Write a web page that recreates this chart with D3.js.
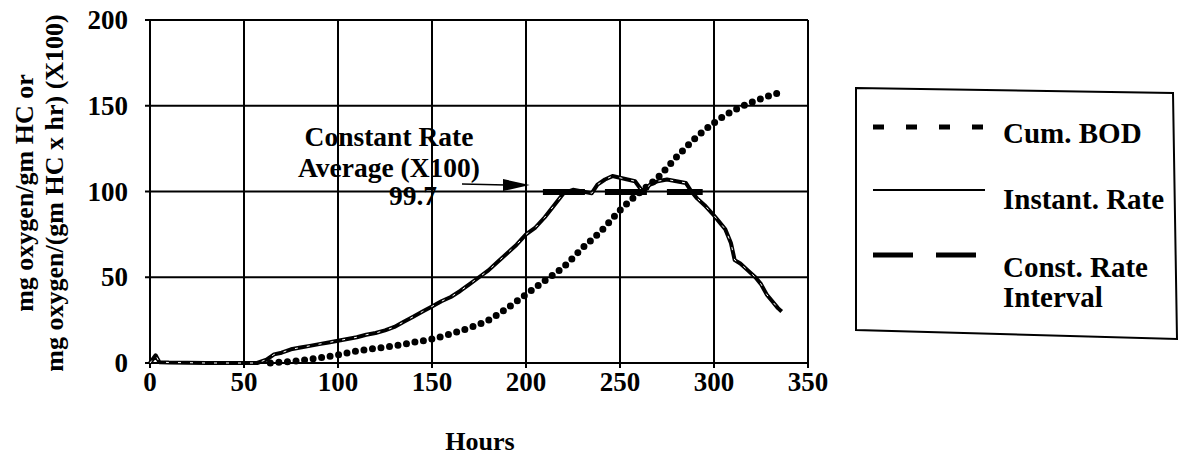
<!DOCTYPE html>
<html>
<head>
<meta charset="utf-8">
<script src="https://cdn.jsdelivr.net/npm/d3@7/dist/d3.min.js"></script>
<style>
  html, body { margin: 0; padding: 0; background: #fff; }
  svg text { font-family: "Liberation Serif", "Times New Roman", serif; font-weight: bold; fill: #000; }
</style>
</head>
<body>
<svg id="chart" width="1183" height="459"></svg>
<script>
// Cumulative BOD (mg oxygen / gm HC), by hour
const bodHours  = [64, 70, 80, 90, 100, 110, 120, 130, 140, 150, 160, 170, 180, 190, 200, 210, 220, 230, 240, 250, 260, 270, 280, 290, 300, 310, 320, 330, 336];
const bodValues = [0, 0.5, 1.5, 3, 4.8, 7, 8.5, 10, 12, 14, 17, 20.5, 25, 32, 40, 48, 56, 67, 77, 89, 99, 108, 120, 131, 140, 147, 152, 156, 158];

// Instantaneous oxygen uptake rate (mg oxygen / (gm HC x hr), X100)
const rateHours  = [0, 3, 5, 10, 20, 30, 40, 50, 57, 62, 66, 70, 75, 80, 85, 90, 95, 100, 105, 110, 115, 120, 125, 130, 135, 140, 145, 150, 155, 160, 165, 170, 175, 180, 185, 190, 195, 200, 205, 210, 215, 220, 225, 230, 235, 238, 242, 246, 250, 254, 258, 262, 266, 270, 275, 280, 285, 288, 291, 295, 300, 303, 306, 309, 311, 314, 318, 322, 325, 328, 331, 334, 336];
const rateValues = [0, 4.5, 0.5, 0.3, 0.2, 0, 0, 0, 0, 2, 5, 6, 8, 9, 10, 11, 12, 13, 14, 15, 16.5, 17.5, 19, 21, 24, 27, 30, 33, 36, 38.5, 42, 46, 50, 54, 59, 64, 69, 75, 79, 85, 92, 99, 101, 100, 99, 104, 107, 109, 108, 107, 106, 100, 104, 106, 107, 106, 105, 100, 96, 92, 86, 82, 78, 70, 60, 58, 54, 50, 46, 40, 36, 32, 30];

// Constant-rate interval and its average
const constHours = [209, 294];
const constAverage = 99.7;

// Axis ticks
const xTicks = [0, 50, 100, 150, 200, 250, 300, 350];
const yTicks = [0, 50, 100, 150, 200];

const legendLabels = ["Cum. BOD", "Instant. Rate", ["Const. Rate", "Interval"]];

const svg = d3.select("#chart");
const x = d3.scaleLinear().domain([0, 350]).range([150, 808]);
const y = d3.scaleLinear().domain([0, 200]).range([363, 20]);

// Grid and frame
const grid = svg.append("g").attr("stroke", "#000").attr("stroke-width", 2);
grid.selectAll("line.v").data(xTicks).join("line")
  .attr("x1", d => x(d)).attr("x2", d => x(d))
  .attr("y1", y(200)).attr("y2", y(0) + 5);
grid.selectAll("line.h").data(yTicks).join("line")
  .attr("x1", x(0) - 5).attr("x2", x(350))
  .attr("y1", d => y(d)).attr("y2", d => y(d));

// Tick labels
svg.append("g").selectAll("text").data(yTicks).join("text")
  .attr("x", 128).attr("y", d => y(d) + 9)
  .attr("text-anchor", "end").attr("font-size", 27)
  .text(d => d);
svg.append("g").selectAll("text").data(xTicks).join("text")
  .attr("x", d => x(d)).attr("y", 391)
  .attr("text-anchor", "middle").attr("font-size", 27)
  .text(d => d);

// Axis titles
svg.append("text").attr("x", 480).attr("y", 450)
  .attr("text-anchor", "middle").attr("font-size", 26).text("Hours");
const yTitle = svg.append("text").attr("transform", "translate(0,193) rotate(-90)")
  .attr("text-anchor", "middle").attr("font-size", 26);
yTitle.append("tspan").attr("x", 0).attr("y", 33).text("mg oxygen/gm HC or");
yTitle.append("tspan").attr("x", 0).attr("y", 63).text("mg oxygen/(gm HC x hr) (X100)");

// Series
const bodLine = d3.line().x((d, i) => x(bodHours[i])).y(d => y(d)).curve(d3.curveMonotoneX);
svg.append("path").attr("d", bodLine(bodValues))
  .attr("fill", "none").attr("stroke", "#000").attr("stroke-width", 7)
  .attr("stroke-linecap", "round").attr("stroke-dasharray", "0 8.6");

const rateLine = d3.line().x((d, i) => x(rateHours[i])).y(d => y(d));
svg.append("path").attr("d", rateLine(rateValues))
  .attr("fill", "none").attr("stroke", "#000").attr("stroke-width", 4)
  .attr("stroke-linejoin", "round");
svg.append("path").attr("d", rateLine(rateValues))
  .attr("fill", "none").attr("stroke", "#fff").attr("stroke-width", 1)
  .attr("stroke-dasharray", "3 9");

svg.append("line")
  .attr("x1", x(constHours[0])).attr("x2", x(constHours[1]))
  .attr("y1", y(constAverage)).attr("y2", y(constAverage))
  .attr("stroke", "#000").attr("stroke-width", 6).attr("stroke-dasharray", "42 20");

// Annotation for the constant-rate average
const ann = svg.append("g").attr("font-size", 27.5);
ann.append("text").attr("x", 389).attr("y", 146).attr("text-anchor", "middle").text("Constant Rate");
ann.append("text").attr("x", 389).attr("y", 177).attr("text-anchor", "middle").text("Average (X100)");
ann.append("text").attr("x", 413).attr("y", 205).attr("text-anchor", "middle").text(constAverage);
const ay = y(constAverage) - 7;
svg.append("line").attr("x1", 462).attr("x2", 506).attr("y1", ay - 1).attr("y2", ay)
  .attr("stroke", "#000").attr("stroke-width", 1.5);
svg.append("path")
  .attr("d", d3.line()([[503, ay - 6], [x(202), ay], [503, ay + 6]]) + "Z")
  .attr("fill", "#000");

// Legend
const lg = svg.append("g");
lg.append("path")
  .attr("d", d3.line()([[856, 88], [1173, 93], [1177, 339], [856, 330]]) + "Z")
  .attr("fill", "#fff").attr("stroke", "#000").attr("stroke-width", 2);
lg.append("line").attr("x1", 873).attr("x2", 985).attr("y1", 127).attr("y2", 127)
  .attr("stroke", "#000").attr("stroke-width", 5).attr("stroke-dasharray", "11 22");
lg.append("line").attr("x1", 873).attr("x2", 985).attr("y1", 190).attr("y2", 190)
  .attr("stroke", "#000").attr("stroke-width", 2);
lg.append("line").attr("x1", 873).attr("x2", 976).attr("y1", 255).attr("y2", 255)
  .attr("stroke", "#000").attr("stroke-width", 5).attr("stroke-dasharray", "40 23");
const lgText = lg.append("g").attr("font-size", 29);
lgText.append("text").attr("x", 1003).attr("y", 143).text(legendLabels[0]);
lgText.append("text").attr("x", 1003).attr("y", 209).text(legendLabels[1]);
lgText.append("text").attr("x", 1003).attr("y", 277).text(legendLabels[2][0]);
lgText.append("text").attr("x", 1003).attr("y", 307).text(legendLabels[2][1]);
</script>
</body>
</html>
